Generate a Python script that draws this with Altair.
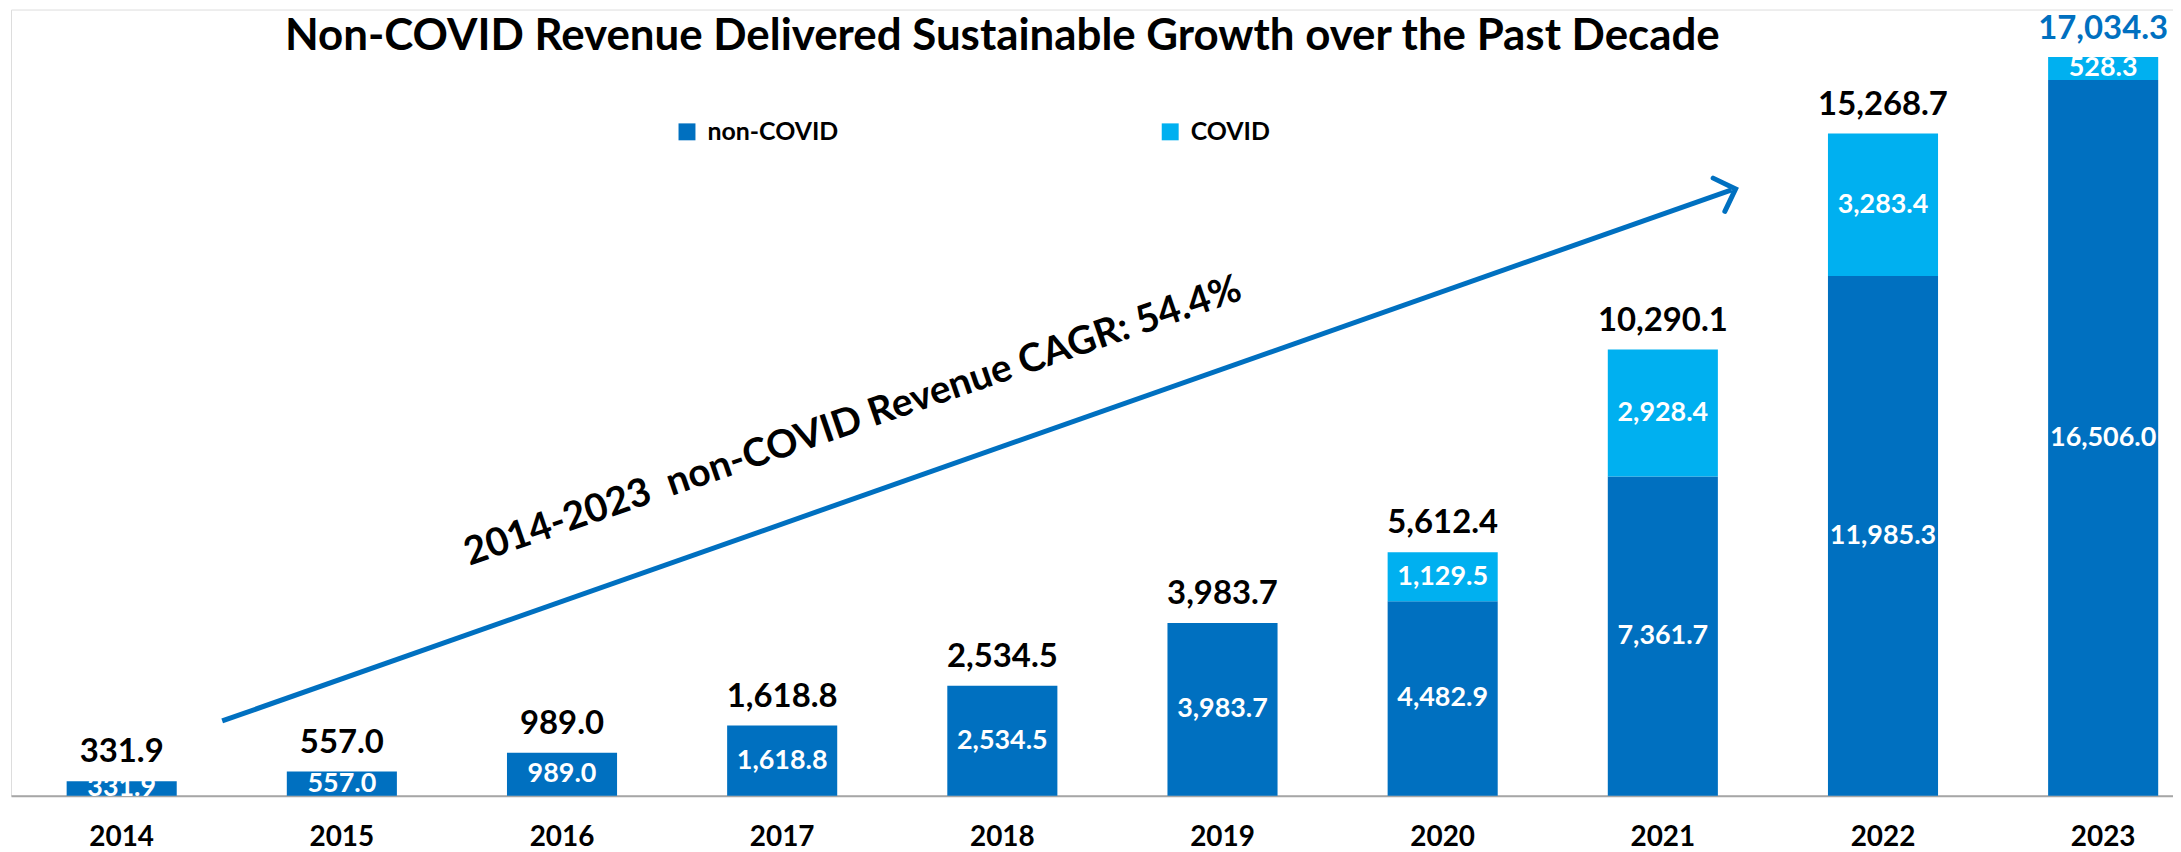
import altair as alt
import pandas as pd

years = ["2014", "2015", "2016", "2017", "2018", "2019", "2020", "2021", "2022", "2023"]
non_covid = [331.9, 557.0, 989.0, 1618.8, 2534.5, 3983.7, 4482.9, 7361.7, 11985.3, 16506.0]
covid = [0, 0, 0, 0, 0, 0, 1129.5, 2928.4, 3283.4, 528.3]
series = ["non-COVID", "COVID"]
colors = ["#0070C0", "#00B0F0"]

title_text = "Non-COVID Revenue Delivered Sustainable Growth over the Past Decade"
cagr_text = "2014-2023\u00a0 non-COVID Revenue CAGR: 54.4%"
last_year = "2023"

rows = []
for i, yr in enumerate(years):
    rows.append({"year": yr, "series": series[0], "order": 0, "value": non_covid[i]})
    rows.append({"year": yr, "series": series[1], "order": 1, "value": covid[i]})
df = pd.DataFrame(rows)

FONT = "Lato"
W, H = 2170, 789
YMAX = 18130
BLUE = "#0070C0"

xenc = alt.X(
    "year:N", sort=years,
    scale=alt.Scale(paddingInner=0.5, paddingOuter=0.16, align=0.79),
    axis=alt.Axis(title=None, ticks=False, tickSize=0, labelAngle=0, labelFont=FONT,
                  labelFontWeight="bold", labelFontSize=28, labelColor="black",
                  labelPadding=28, domainColor="#A6A6A6", domainWidth=2, grid=False),
)
yscale = alt.Scale(domain=[0, YMAX], nice=False, zero=True)

base = alt.Chart(df)

bars = base.mark_bar().encode(
    x=xenc,
    y=alt.Y("value:Q", stack="zero", scale=yscale, axis=None),
    color=alt.Color(
        "series:N",
        scale=alt.Scale(domain=series, range=colors),
        legend=alt.Legend(title=None, orient="none", legendX=666, legendY=110,
                          direction="horizontal", symbolType="square", symbolSize=289,
                          symbolStrokeWidth=0, symbolOpacity=1, labelFont=FONT,
                          labelFontSize=25, labelFontWeight="bold", labelColor="black",
                          labelOffset=8, columnPadding=320, padding=0),
    ),
    order=alt.Order("order:Q"),
)

seg = base.transform_filter(alt.datum.value > 0).transform_stack(
    stack="value", groupby=["year"], sort=[alt.SortField("order")], as_=["v0", "v1"]
).transform_calculate(mid="(datum.v0 + datum.v1) / 2").mark_text(
    font=FONT, fontWeight="bold", fontSize=27, color="white", baseline="middle"
).encode(
    x=alt.X("year:N", sort=years),
    y=alt.Y("mid:Q", scale=yscale, axis=None),
    text=alt.Text("value:Q", format=",.1f"),
)

totals = base.transform_aggregate(total="sum(value)", groupby=["year"])

tot = totals.transform_filter(alt.datum.year != last_year).mark_text(
    font=FONT, fontWeight="bold", fontSize=33, baseline="middle", dy=-29, color="black"
).encode(
    x=alt.X("year:N", sort=years),
    y=alt.Y("total:Q", scale=yscale, axis=None),
    text=alt.Text("total:Q", format=",.1f"),
)

tot_last = totals.transform_filter(alt.datum.year == last_year).mark_text(
    font=FONT, fontWeight="bold", fontSize=33, baseline="middle", align="center",
    dy=-28, color=BLUE
).encode(
    x=alt.X("year:N", sort=years),
    y=alt.Y("total:Q", scale=yscale, axis=None),
    text=alt.Text("total:Q", format=",.1f"),
)

anno = alt.Chart(pd.DataFrame({"note": [cagr_text], "heading": [title_text]}))

title = anno.mark_text(
    font=FONT, fontWeight="bold", fontSize=44, color="black",
    align="center", baseline="alphabetic"
).encode(x=alt.value(995), y=alt.value(41), text="heading:N")

arrow_line = anno.mark_rule(color=BLUE, strokeWidth=5).encode(
    x=alt.value(212), y=alt.value(714), x2=alt.value(1727), y2=alt.value(181)
)
arrow_head = anno.mark_point(
    shape="M -1 -1 L 0 0 L -1 1", filled=False, color=BLUE, strokeWidth=5,
    size=1250, angle=340.6, opacity=1, strokeCap="round", strokeJoin="miter"
).encode(x=alt.value(1731), y=alt.value(180))

cagr = anno.mark_text(
    font=FONT, fontWeight="bold", fontSize=39, color="black", angle=341,
    align="center", baseline="middle"
).encode(x=alt.value(845), y=alt.value(413), text="note:N")

chart = alt.layer(bars, seg, tot, tot_last, arrow_line, arrow_head, cagr, title).properties(
    width=W, height=H,
    autosize=alt.AutoSizeParams(type="none"),
    padding={"left": 3, "top": 0, "right": 0, "bottom": 55},
).configure_view(stroke=None).configure(background="white")

chart.save("out.html", embed_options={"renderer": "svg", "actions": False})
